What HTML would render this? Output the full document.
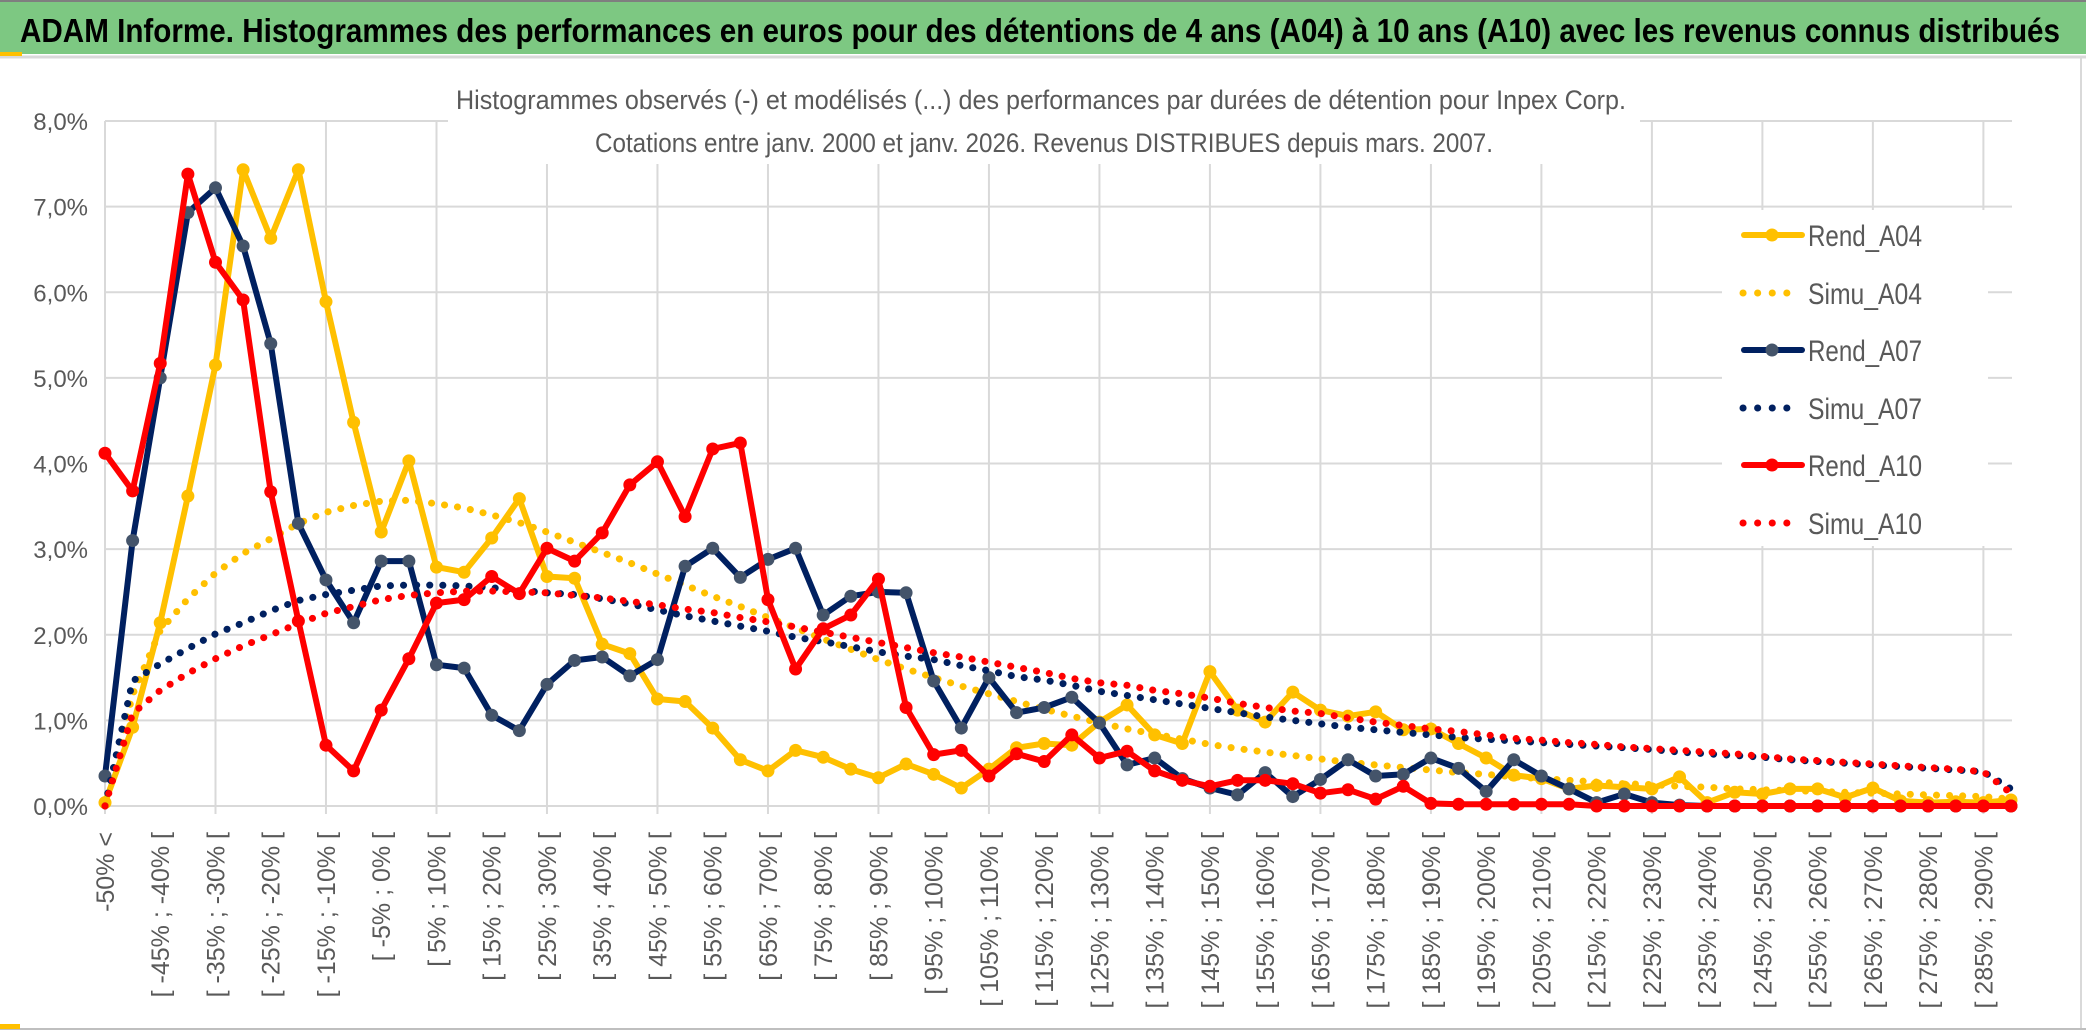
<!DOCTYPE html>
<html><head><meta charset="utf-8"><style>
html,body{margin:0;padding:0;background:#fff;}
svg{display:block;font-family:"Liberation Sans",sans-serif;}
</style></head><body>
<svg id="chart" width="2086" height="1033" viewBox="0 0 2086 1033" xmlns="http://www.w3.org/2000/svg">
<rect x="0" y="0" width="2086" height="1033" fill="#fff"/>
<rect x="0" y="2" width="2086" height="52" fill="#7dc882"/>
<line x1="0" y1="1" x2="2086" y2="1" stroke="#7f7f7f" stroke-width="2"/>
<line x1="0" y1="57" x2="2086" y2="57" stroke="#d9d9d9" stroke-width="3"/>
<rect x="0" y="52" width="22" height="4" fill="#ffc000"/>
<text x="20" y="42" font-size="33" font-weight="bold" fill="#000" textLength="2040" lengthAdjust="spacingAndGlyphs">ADAM Informe. Histogrammes des performances en euros pour des détentions de 4 ans (A04) à 10 ans (A10) avec les revenus connus distribués</text>
<line x1="2081" y1="57" x2="2081" y2="1028" stroke="#d9d9d9" stroke-width="2"/>
<line x1="0" y1="1029" x2="2086" y2="1029" stroke="#bfbfbf" stroke-width="2"/>
<rect x="0" y="1024" width="20" height="5" fill="#ffc000"/>
<g id="grid"></g>
<rect x="448" y="78" width="1192" height="86" fill="#fff"/>
<text x="1041" y="109" font-size="27" fill="#595959" text-anchor="middle" textLength="1170" lengthAdjust="spacingAndGlyphs">Histogrammes observés (-) et modélisés (...) des performances par durées de détention pour Inpex Corp.</text>
<text x="1044" y="152" font-size="27" fill="#595959" text-anchor="middle" textLength="898" lengthAdjust="spacingAndGlyphs">Cotations entre janv. 2000 et janv. 2026. Revenus DISTRIBUES depuis mars. 2007.</text>
<g id="yaxis"></g>
<g id="xaxis"></g>
<g id="series"></g>
<rect x="1722" y="210" width="266" height="336" fill="#fff"/>
<g id="legend"></g>
</svg>
<script>
const rendA04 = [0.04,0.92,2.14,3.62,5.15,7.43,6.63,7.43,5.89,4.48,3.2,4.03,2.79,2.73,3.13,3.59,2.68,
2.66,1.89,1.78,1.25,1.22,0.91,0.54,0.41,0.65,0.57,0.43,0.33,0.49,0.37,0.21,0.43,0.68,0.73,
0.71,0.98,1.18,0.83,0.73,1.57,1.12,0.98,1.33,1.12,1.05,1.1,0.89,0.9,0.73,0.56,0.36,
0.32,0.2,0.24,0.22,0.2,0.34,0.04,0.16,0.14,0.2,0.2,0.1,0.21,0.06,0.04,0.05,0.04,0.07];
const simuA04 = [0,1.3,2.05,2.42,2.72,2.95,3.12,3.3,3.43,3.51,3.56,3.57,3.53,3.48,3.4,3.31,3.2,3.08,2.96,2.84,
2.71,2.58,2.45,2.33,2.2,2.08,1.95,1.83,1.71,1.6,1.5,1.4,1.31,1.22,1.13,1.05,0.97,0.9,0.84,0.78,
0.72,0.67,0.63,0.59,0.55,0.51,0.48,0.45,0.42,0.39,0.37,0.34,0.32,0.3,0.28,0.26,0.25,0.23,0.22,0.2,
0.19,0.18,0.17,0.16,0.15,0.14,0.13,0.12,0.11,0.08];
const rendA07 = [0.35,3.1,5.0,6.93,7.22,6.54,5.4,3.3,2.64,2.14,2.86,2.86,1.65,1.61,1.06,0.88,1.42,
1.7,1.74,1.52,1.71,2.8,3.01,2.67,2.88,3.01,2.23,2.45,2.5,2.49,1.46,0.91,1.5,1.09,1.15,
1.27,0.97,0.48,0.56,0.32,0.21,0.13,0.39,0.11,0.31,0.54,0.35,0.37,0.56,0.44,0.17,0.54,
0.35,0.2,0.04,0.14,0.04,0.01,0,0,0,0,0,0,0,0,0,0,0,0];
const simuA07 = [0,1.46,1.66,1.84,2.01,2.14,2.28,2.4,2.47,2.52,2.57,2.58,2.58,2.57,2.55,2.52,2.49,2.47,2.42,2.36,
2.29,2.22,2.16,2.1,2.04,1.97,1.92,1.86,1.8,1.75,1.71,1.64,1.58,1.51,1.47,1.41,1.34,1.29,1.24,1.19,
1.14,1.09,1.04,1.0,0.96,0.92,0.89,0.86,0.83,0.8,0.78,0.76,0.74,0.72,0.7,0.68,0.66,0.63,0.61,0.59,
0.57,0.54,0.52,0.5,0.48,0.46,0.44,0.42,0.4,0.2];
const rendA10 = [4.12,3.68,5.17,7.38,6.35,5.91,3.67,2.16,0.71,0.41,1.12,1.72,2.37,2.41,2.68,2.48,3.01,
2.86,3.19,3.75,4.02,3.38,4.17,4.24,2.41,1.6,2.07,2.23,2.65,1.15,0.6,0.65,0.35,0.61,0.52,
0.83,0.56,0.64,0.41,0.3,0.23,0.3,0.3,0.26,0.15,0.19,0.08,0.23,0.03,0.02,0.02,0.02,
0.02,0.02,0,0,0,0,0,0,0,0,0,0,0,0,0,0,0,0];
const simuA10 = [0,1.08,1.35,1.55,1.72,1.87,2.0,2.13,2.25,2.33,2.41,2.46,2.49,2.51,2.51,2.5,2.49,2.46,2.43,2.39,
2.35,2.3,2.26,2.2,2.15,2.09,2.03,1.97,1.91,1.85,1.79,1.74,1.68,1.62,1.56,1.49,1.44,1.41,1.35,1.31,
1.26,1.2,1.15,1.11,1.08,1.03,0.98,0.94,0.9,0.87,0.83,0.79,0.77,0.74,0.72,0.69,0.67,0.65,0.63,0.61,
0.58,0.55,0.53,0.51,0.49,0.47,0.45,0.43,0.4,0.15];
const yTicks = [0,1,2,3,4,5,6,7,8];
const yTickLabels = ["0,0%","1,0%","2,0%","3,0%","4,0%","5,0%","6,0%","7,0%","8,0%"];
const lowerBounds = [];
for (let b = -50; b <= 290; b += 5) lowerBounds.push(b);
const categories = ["-50% <"].concat(lowerBounds.slice(0, 69).map(b => "[ " + b + "% ; " + (b + 5) + "% ["));
const seriesNames = ["Rend_A04","Simu_A04","Rend_A07","Simu_A07","Rend_A10","Simu_A10"];

const NS = "http://www.w3.org/2000/svg";
const X0 = 105, X1 = 2011, Y0 = 806, Y1 = 121, YMAX = 8;
const n = categories.length;
function xPos(i){ return X0 + (X1 - X0) * i / (n - 1); }
function yPos(v){ return Y0 - (Y0 - Y1) * v / YMAX; }
function mk(tag, attrs, parent){ const e = document.createElementNS(NS, tag); for (const k in attrs) e.setAttribute(k, attrs[k]); parent.appendChild(e); return e; }

const grid = document.getElementById('grid');
yTicks.forEach(t => {
  const l = mk('line', {x1:X0, x2:2012, y1:yPos(t), y2:yPos(t), stroke:'#d9d9d9', 'stroke-width':2}, grid);
  
  
});
for (let i = 0; i < n; i += 4) {
  const l = mk('line', {x1:xPos(i), x2:xPos(i), y1:Y1, y2:Y0 + 8, stroke:'#d9d9d9', 'stroke-width':2}, grid);
  
  
}

const yax = document.getElementById('yaxis');
yTicks.forEach((t, k) => {
  const tx = mk('text', {x:88, y:yPos(t) + 9, 'font-size':24, fill:'#595959', 'text-anchor':'end'}, yax);
  tx.textContent = yTickLabels[k];
  
  
});

const xax = document.getElementById('xaxis');
for (let i = 0; i < n; i += 2) {
  const x = xPos(i) + 9, y = 832;
  const tx = mk('text', {x:x, y:y, 'font-size':25, fill:'#595959', 'text-anchor':'end', transform:'rotate(-90 ' + x + ' ' + y + ')'}, xax);
  tx.textContent = categories[i];
  
  
}

const sg = document.getElementById('series');
const styles = [
  {data:rendA04, color:'#ffc000', marker:'#ffc000', dotted:false},
  {data:simuA04, color:'#ffc000', dotted:true},
  {data:rendA07, color:'#002060', marker:'#44546a', dotted:false},
  {data:simuA07, color:'#002060', dotted:true},
  {data:rendA10, color:'#ff0000', marker:'#ff0000', dotted:false},
  {data:simuA10, color:'#ff0000', dotted:true}
];
styles.forEach((s, si) => {
  const g = mk('g', {}, sg);
  
  
  const pts = s.data.map((v, i) => xPos(i).toFixed(1) + ',' + yPos(v).toFixed(1)).join(' ');
  const attrs = {points:pts, fill:'none', stroke:s.color, 'stroke-linejoin':'round', 'stroke-linecap':'round'};
  if (s.dotted) { attrs['stroke-width'] = 7; attrs['stroke-dasharray'] = '0.1 13'; }
  else attrs['stroke-width'] = 6;
  const pl = mk('polyline', attrs, g);
  
  
  if (!s.dotted) {
    s.data.forEach((v, i) => {
      const c = mk('circle', {cx:xPos(i), cy:yPos(v), r:6.5, fill:s.marker}, g);
      
      
    });
  }
});

const lg = document.getElementById('legend');
const legY = [235, 293, 350, 408, 465, 523];
styles.forEach((s, si) => {
  const g = mk('g', {}, lg);
  
  
  const y = legY[si];
  if (s.dotted) {
    mk('line', {x1:1743, x2:1800, y1:y, y2:y, stroke:s.color, 'stroke-width':7, 'stroke-linecap':'round', 'stroke-dasharray':'0.1 14.5'}, g);
  } else {
    mk('line', {x1:1744, x2:1802, y1:y, y2:y, stroke:s.color, 'stroke-width':6, 'stroke-linecap':'round'}, g);
    mk('circle', {cx:1772, cy:y, r:6.5, fill:s.marker}, g);
  }
  const t = mk('text', {x:1808, y:y + 11, 'font-size':30, fill:'#595959', textLength:114, lengthAdjust:'spacingAndGlyphs'}, g);
  t.textContent = seriesNames[si];
});
</script>
</body></html>
